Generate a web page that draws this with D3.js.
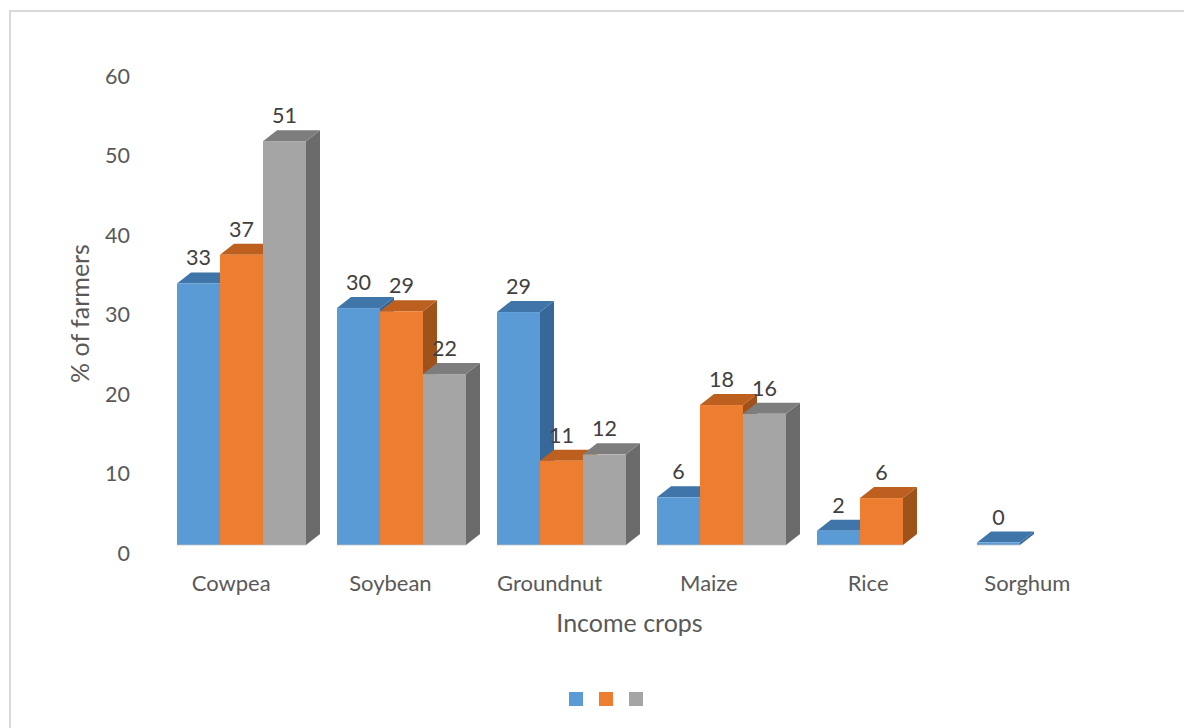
<!DOCTYPE html>
<html><head><meta charset="utf-8">
<script src="https://cdn.jsdelivr.net/npm/d3@7/dist/d3.min.js"></script>
<style>html,body{margin:0;padding:0;background:#fff}svg{display:block}text{font-family:Lato,sans-serif}</style>
</head><body><svg id="c" width="1184" height="728"></svg>
<script>
const crops = ["Cowpea","Soybean","Groundnut","Maize","Rice","Sorghum"];
const seriesNames = ["A","B","C"];
const seriesA = [32.9,29.8,29.3,6,1.8,0.3];
const seriesB = [36.5,29.4,10.6,17.6,5.9,null];
const seriesC = [50.8,21.5,11.4,16.5,null,null];
const labelsA = ["33","30","29","6","2","0"];
const labelsB = ["37","29","11","18","6",""];
const labelsC = ["51","22","12","16","",""];
const yTicks = [0,10,20,30,40,50,60];
const frontColors = ["#5B9BD5","#ED7D31","#A5A5A5"];
const topColors = ["#3F75A8","#BD5F1E","#7D7D7D"];
const sideColors = ["#38689A","#9F531B","#6B6B6B"];

const svg = d3.select("#c");
const textCol = "#595959";
const frame = "#D9D9D9";
const fontFam = 'Lato,sans-serif';
svg.append("path").attr("d","M10,728V11H1184").attr("fill","none").attr("stroke",frame).attr("stroke-width",2);

const y = d3.scaleLinear().domain([0,60]).range([545,68]);
const x0 = d3.scaleBand().domain(crops).range([151,1111]);
const xLabel = d3.scaleBand().domain(crops).range([151.5,1107]);
const x1 = d3.scaleBand().domain(seriesNames).range([26,155]);
const depthX = 14, depthY = 11;

const axis = d3.axisLeft(y).tickValues(yTicks).tickSize(0).tickPadding(0);
const ga = svg.append("g").attr("transform","translate(130,8.5)").call(axis);
ga.select(".domain").remove();
ga.selectAll("text").attr("font-size",21.5).attr("font-family",fontFam).attr("fill",textCol);

const xa = d3.axisBottom(xLabel).tickSize(0).tickPadding(0);
const gx = svg.append("g").attr("transform","translate(0,575)").call(xa);
gx.select(".domain").remove();
gx.selectAll("text").attr("font-size",22).attr("font-family",fontFam).attr("fill",textCol);

const all = [seriesA,seriesB,seriesC];
const labels = [labelsA,labelsB,labelsC];
crops.forEach((c,i)=>{
  const g = svg.append("g");
  [0,1,2].forEach(s=>{
    const v = all[s][i];
    if(v===null) return;
    const l = x0(c)+x1(seriesNames[s]), w = x1.bandwidth(), t = y(v), b = y(0);
    g.append("path").attr("fill",sideColors[s])
      .attr("d",`M${l+w},${t}l${depthX},${-depthY}V${b-depthY}L${l+w},${b}Z`);
    g.append("path").attr("fill",topColors[s])
      .attr("d",`M${l},${t}l${depthX},${-depthY}h${w}l${-depthX},${depthY}Z`);
    g.append("rect").attr("x",l).attr("y",t).attr("width",w).attr("height",Math.max(b-t,0))
      .attr("fill",frontColors[s]);
    g.append("path").attr("d",`M${l},${b}H${l+w}`).attr("fill","none").attr("stroke","#BFBFBF").attr("stroke-width",1).attr("opacity",.7);
  });
});
crops.forEach((c,i)=>{
  [0,1,2].forEach(s=>{
    const v = all[s][i];
    if(v===null) return;
    svg.append("text").attr("x",x0(c)+x1(seriesNames[s])+x1.bandwidth()/2).attr("y",y(v)-25.5)
      .attr("dy","0.35em").attr("text-anchor","middle").attr("font-size",21.5).attr("fill","#404040").text(labels[s][i]);
  });
});

svg.append("text").attr("x",629.5).attr("y",623).attr("dy","0.35em").attr("text-anchor","middle")
  .attr("font-size",25).attr("fill",textCol).text("Income crops");
svg.append("text").attr("transform","translate(80,313.5) rotate(-90)").attr("dy","0.35em").attr("text-anchor","middle")
  .attr("font-size",25).attr("fill",textCol).text("% of farmers");

const legend = d3.scaleOrdinal().domain(seriesNames).range([569,599,629]);
seriesNames.forEach((n,i)=>{
  svg.append("rect").attr("x",legend(n)).attr("y",692).attr("width",14).attr("height",14).attr("fill",frontColors[i]);
});
</script></body></html>
